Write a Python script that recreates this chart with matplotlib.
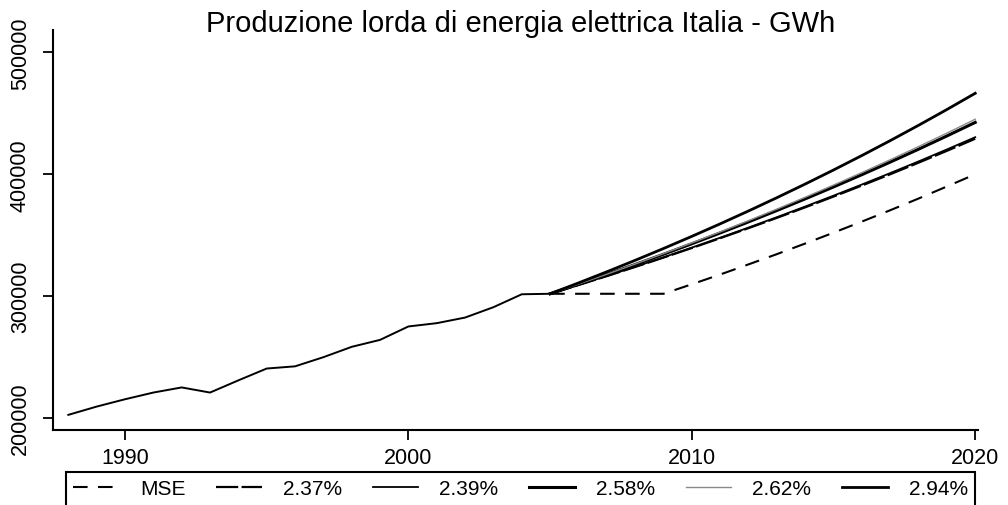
import matplotlib.pyplot as plt
from matplotlib.patches import Rectangle

plt.rcParams['font.family'] = ['Liberation Sans', 'DejaVu Sans']

# storico produzione lorda (GWh)
anni_storico = list(range(1988, 2006))
storico = [202700, 209500, 215500, 221000, 225200, 221000, 231000, 240700,
           242500, 250000, 258500, 264200, 275200, 277900, 282500, 291000,
           301600, 302000]

# proiezioni 2005-2020
anni_prev = list(range(2005, 2021))
prev_mse = [302000, 302000, 302000, 302000, 302000, 309800, 317800, 326100,
            334500, 343200, 352100, 361200, 370500, 380100, 390000, 400000]
prev_237 = [302000, 309157, 316484, 323985, 331663, 339523, 347570, 355807,
            364240, 372873, 381710, 390756, 400017, 409497, 419202, 429137]
prev_239 = [302000, 309218, 316608, 324175, 331923, 339856, 347978, 356295,
            364810, 373529, 382457, 391597, 400956, 410539, 420351, 430397]
prev_258 = [302000, 309792, 317784, 325983, 334393, 343020, 351870, 360948,
            370260, 379813, 389612, 399664, 409975, 420552, 431402, 442532]
prev_262 = [302000, 309912, 318032, 326364, 334915, 343690, 352694, 361935,
            371417, 381148, 391134, 401382, 411898, 422689, 433764, 445128]
prev_294 = [302000, 310879, 320019, 329427, 339112, 349082, 359345, 369910,
            380786, 391981, 403505, 415368, 427580, 440151, 453091, 466412]

etichette = ['MSE', '2.37%', '2.39%', '2.58%', '2.62%', '2.94%']

fig = plt.figure(figsize=(10.08, 5.06), dpi=100)
ax = fig.add_axes([0.0526, 0.148, 0.9177, 0.79])

ax.plot(anni_storico, storico, color='black', lw=1.4)
ax.plot(anni_prev, prev_mse, color='black', lw=1.5, dashes=(7, 5), label=etichette[0])
ax.plot(anni_prev, prev_237, color='black', lw=1.6, dashes=(10, 1.5), label=etichette[1])
ax.plot(anni_prev, prev_239, color='black', lw=1.3, label=etichette[2])
ax.plot(anni_prev, prev_258, color='black', lw=2.2, label=etichette[3])
ax.plot(anni_prev, prev_262, color='#8a8a8a', lw=1.0, label=etichette[4])
ax.plot(anni_prev, prev_294, color='black', lw=2.0, label=etichette[5])

ax.set_xlim(1987.46, 2020.1)
ax.set_ylim(190200, 518000)
ax.set_xticks([1990, 2000, 2010, 2020])
ax.set_yticks([200000, 300000, 400000, 500000])
ax.set_yticklabels(['200000', '300000', '400000', '500000'], rotation=90, va='center')
ax.tick_params(axis='both', labelsize=15.5, length=7, width=1.3, direction='out')
ax.tick_params(axis='y', pad=9)
ax.tick_params(axis='x', pad=5)

for s in ['top', 'right']:
    ax.spines[s].set_visible(False)
for s in ['left', 'bottom']:
    ax.spines[s].set_linewidth(1.5)

fig.text(0.516, 1 - 32 / 506, 'Produzione lorda di energia elettrica Italia - GWh',
         ha='center', va='baseline', fontsize=21)

# legenda su una riga, cornice aperta in basso (esce dal foglio)
leg = fig.legend(loc='upper left', bbox_to_anchor=(0.0655, 0.0, 0.9017, 1 - 473 / 506),
                 mode='expand', ncol=6, fontsize=15, frameon=False,
                 handlelength=2.2, handletextpad=1.0, borderaxespad=0, borderpad=0.35)
fig.add_artist(Rectangle((0.0655, -0.05), 0.9017, 1 - 473 / 506 + 0.05,
                         transform=fig.transFigure, fill=False,
                         edgecolor='black', linewidth=1.5, clip_on=False))

fig.savefig('out.png', dpi=100)
